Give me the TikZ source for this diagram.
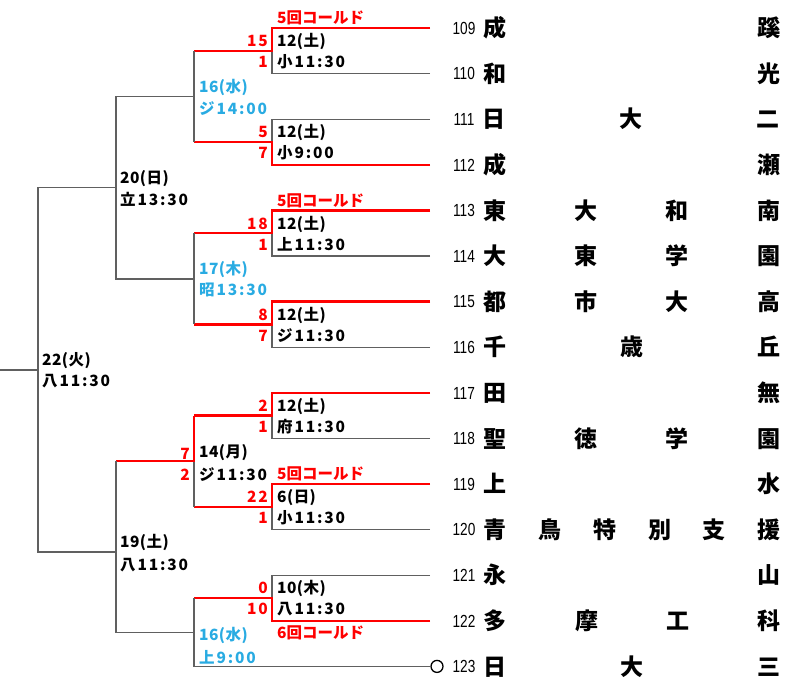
\documentclass[tikz,border=0pt]{standalone}
\usepackage{fontspec}
\setmainfont{Noto Sans CJK JP}
\newfontfamily\datefont{Noto Sans CJK JP}[LetterSpace=3]
\newfontfamily\timefont{Noto Sans CJK JP}[LetterSpace=12]
\newfontfamily\numfont{Liberation Sans}[FakeStretch=0.78]
\usetikzlibrary{positioning}
\definecolor{winred}{RGB}{255,0,0}
\definecolor{dayblue}{RGB}{41,171,226}
\definecolor{linegray}{RGB}{96,96,96}
\tikzset{
  lost/.style={draw=linegray,line width=1.4pt},
  won/.style={draw=winred,line width=2.4pt},
  small/.style={inner sep=0pt,text height=11.8pt,text depth=0pt},
  score/.style={small,text=winred,anchor=east,font=\timefont\fontsize{15.5pt}{17pt}\selectfont\bfseries},
  date/.style={small,anchor=west,font=\datefont\fontsize{15.5pt}{17pt}\selectfont\bfseries},
  time/.style={small,anchor=west,font=\timefont\fontsize{15.5pt}{17pt}\selectfont\bfseries},
  note/.style={small,anchor=west,text=winred,font=\fontsize{15.5pt}{17pt}\selectfont\bfseries},
  tnum/.style={inner sep=0pt,text height=12.6pt,text depth=0pt,font=\numfont\fontsize{17.5pt}{18pt}\selectfont},
  tname/.style={inner sep=0pt,text height=17.4pt,text depth=0pt,font=\fontsize{23pt}{24pt}\selectfont\bfseries}
}

\begin{document}
\begin{tikzpicture}[x=1pt,y=-1pt]
\useasboundingbox (0,0) rectangle (806,699);

% teams
\foreach \num/\tname [count=\i from 0] in {
    109/{成\hfill 蹊}, 110/{和\hfill 光}, 111/{日\hfill 大\hfill 二}, 112/{成\hfill 瀬},
    113/{東\hfill 大\hfill 和\hfill 南}, 114/{大\hfill 東\hfill 学\hfill 園},
    115/{都\hfill 市\hfill 大\hfill 高}, 116/{千\hfill 歳\hfill 丘}, 117/{田\hfill 無},
    118/{聖\hfill 徳\hfill 学\hfill 園}, 119/{上\hfill 水},
    120/{青\hfill 鳥\hfill 特\hfill 別\hfill 支\hfill 援}, 121/{永\hfill 山},
    122/{多\hfill 摩\hfill 工\hfill 科}, 123/{日\hfill 大\hfill 三}}
{
    \node[tnum] (n\num) at (464,28+45.6*\i) {\num};
    \node[tname,right=8pt of n\num] (m\num) {\hbox to 297pt{\tname}};
    \coordinate (L\num) at (430,28+45.6*\i);
}

% junctions
\coordinate (a1) at (272,50.8);
\coordinate (a2) at (272,142);
\coordinate (a3) at (272,233.2);
\coordinate (a4) at (272,324.4);
\coordinate (a5) at (272,415.6);
\coordinate (a6) at (272,506.8);
\coordinate (a7) at (272,598);
\coordinate (b1) at (194,96.4);
\coordinate (b2) at (194,278.8);
\coordinate (b3) at (194,461.2);
\coordinate (b4) at (194,632.2);
\coordinate (c1) at (116,187.6);
\coordinate (c2) at (116,552);
\coordinate (f) at (38,369.8);
\coordinate (out) at (0,369.8);
\node[draw=black,circle,line width=1.3pt,minimum size=12pt,inner sep=0pt] (o123) at (437,666.4) {};

% first round
\draw[lost] (L110) -| (a1);
\draw[lost] (L111) -| (a2);
\draw[lost] (L114) -| (a3);
\draw[lost] (L116) -| (a4);
\draw[lost] (L118) -| (a5);
\draw[lost] (L120) -| (a6);
\draw[lost] (L121) -| (a7);
\draw[won] (L109) -| (a1) -- (a1 -| b1);
\draw[won] (L112) -| (a2) -- (a2 -| b1);
\draw[won] (L113) -| (a3) -- (a3 -| b2);
\draw[won] (L115) -| (a4) -- (a4 -| b2);
\draw[won] (L117) -| (a5) -- (a5 -| b3);
\draw[won] (L119) -| (a6) -- (a6 -| b3);
\draw[won] (L122) -| (a7) -- (a7 -| b4);

% later rounds
\draw[lost] (a1 -| b1) -- (a2 -| b1);
\draw[lost] (a3 -| b2) -- (a4 -| b2);
\draw[lost] (b3) -- (a6 -| b3);
\draw[won] (a5 -| b3) -- (b3) -- (b3 -| c2);
\draw[lost] (o123) -| (b4) -- (a7 -| b4);
\draw[lost] (b1) -| (c1) |- (b2);
\draw[lost] (b3 -| c2) |- (b4);
\draw[lost] (c1) -| (f) |- (c2);
\draw[lost] (f) -- (out);

% scores and dates
\foreach \j/\sa/\sb/\da/\db in {1/15/1/12(土)/小11:30, 2/5/7/12(土)/小9:00,
    3/18/1/12(土)/上11:30, 4/8/7/12(土)/ジ11:30, 5/2/1/12(土)/府11:30,
    6/22/1/6(日)/小11:30, 7/0/10/10(木)/八11:30}
{
    \node[score] (sa\j) at ([shift={(-4pt,10pt)}]a\j) {\sa};
    \node[score] (sb\j) at ([shift={(-4pt,-11pt)}]a\j) {\sb};
    \node[date] (da\j) at ([shift={(5pt,10pt)}]a\j) {\da};
    \node[time] (db\j) at ([shift={(5pt,-11pt)}]a\j) {\db};
}
\node[date,text=dayblue] (db1) at ([shift={(5pt,10pt)}]b1) {16(水)};
\node[time,text=dayblue] (tb1) at ([shift={(5pt,-12pt)}]b1) {ジ14:00};
\node[date,text=dayblue] (db2) at ([shift={(5pt,10pt)}]b2) {17(木)};
\node[time,text=dayblue] (tb2) at ([shift={(5pt,-11pt)}]b2) {昭13:30};
\node[score] (sb3a) at ([shift={(-4pt,8pt)}]b3) {7};
\node[score] (sb3b) at ([shift={(-4pt,-13pt)}]b3) {2};
\node[date] (db3) at ([shift={(5pt,10pt)}]b3) {14(月)};
\node[time] (tb3) at ([shift={(5pt,-13pt)}]b3) {ジ11:30};
\node[date,text=dayblue] (db4) at ([shift={(5pt,-2pt)}]b4) {16(水)};
\node[time,text=dayblue] (tb4) at ([shift={(5pt,-25pt)}]b4) {上9:00};
\node[date] (dc1) at ([shift={(4pt,10pt)}]c1) {20(日)};
\node[time] (tc1) at ([shift={(4pt,-12pt)}]c1) {立13:30};
\node[date] (dc2) at ([shift={(4pt,10pt)}]c2) {19(土)};
\node[time] (tc2) at ([shift={(4pt,-13pt)}]c2) {八11:30};
\node[date] (df) at ([shift={(4pt,10pt)}]f) {22(火)};
\node[time] (tf) at ([shift={(4pt,-11pt)}]f) {八11:30};

% called games
\node[note] (k109) at (277,18) {5回コールド};
\node[note] (k113) at (277,200.4) {5回コールド};
\node[note] (k119) at (277,474) {5回コールド};
\node[note] (k122) at (277,633) {6回コールド};
\end{tikzpicture}
\end{document}
